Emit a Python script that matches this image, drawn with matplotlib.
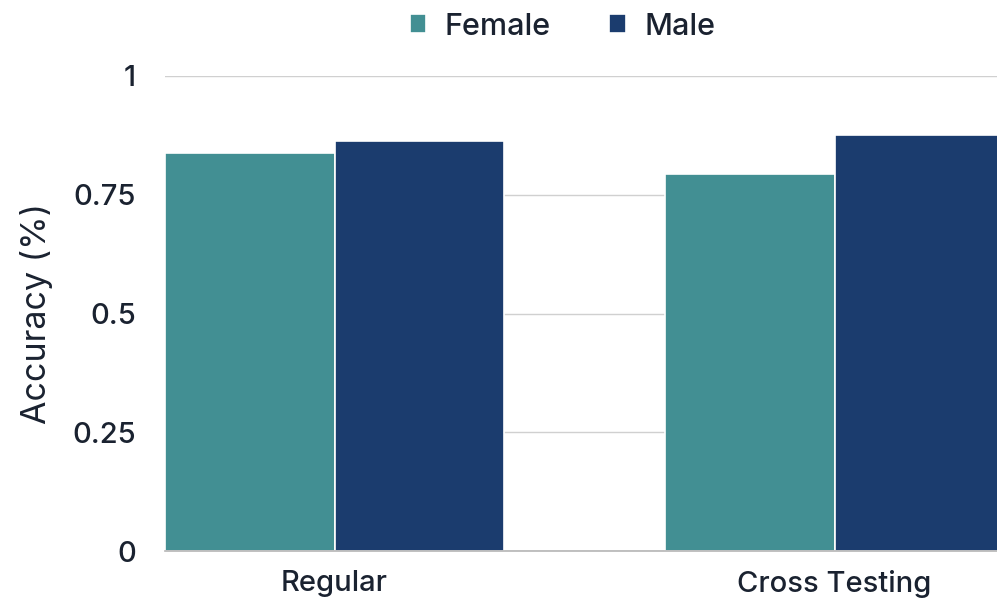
import matplotlib
matplotlib.use("Agg")
import matplotlib.pyplot as plt
import numpy as np

categories = ["Regular", "Cross Testing"]
female = [0.837, 0.793]
male = [0.864, 0.876]
series_names = ["Female", "Male"]
yticks = [0, 0.25, 0.5, 0.75, 1]
ytick_labels = ["0", "0.25", "0.5", "0.75", "1"]

teal = "#428F93"
navy = "#1B3C6E"
text_col = "#1A2230"

plt.rcParams["font.family"] = ["Inter", "DejaVu Sans"]
plt.rcParams["font.weight"] = "medium"

fig = plt.figure(figsize=(9.97, 6.0), dpi=100)
ax = fig.add_axes([165 / 997, 49 / 600, 1 - 165 / 997, 475 / 600])

x = np.arange(len(categories))
w = 0.339
ax.bar(x - w / 2, female, width=w, color=teal, edgecolor="white", linewidth=1.2,
       label=series_names[0], zorder=3)
ax.bar(x + w / 2, male, width=w, color=navy, edgecolor="white", linewidth=1.2,
       label=series_names[1], zorder=3)

ax.set_xlim(-w, (997 - 334.5) / 500)
ax.set_ylim(0, 1)
ax.set_yticks(yticks)
ax.set_yticklabels(ytick_labels)
ax.set_xticks(x)
ax.set_xticklabels(categories)

ax.grid(axis="y", color="#D0D0D0", linewidth=1, zorder=0)
for s in ["top", "right", "left"]:
    ax.spines[s].set_visible(False)
ax.spines["bottom"].set_color("#B5B5B5")
ax.spines["bottom"].set_linewidth(1.2)
ax.spines["bottom"].set_zorder(4)

ax.tick_params(axis="both", length=0, labelsize=21, colors=text_col)
ax.tick_params(axis="y", pad=21)
ax.tick_params(axis="x", pad=14)

ax.set_ylabel("Accuracy (%)", fontsize=24.5, color=text_col, fontweight="normal", labelpad=14)

leg = fig.legend(loc="upper center", bbox_to_anchor=(0.564, 1.025), ncol=2, frameon=False,
                 fontsize=22, handlelength=0.55, handleheight=0.55, columnspacing=1.9,
                 handletextpad=0.6, labelcolor=text_col)

fig.savefig("out.png", dpi=100)
